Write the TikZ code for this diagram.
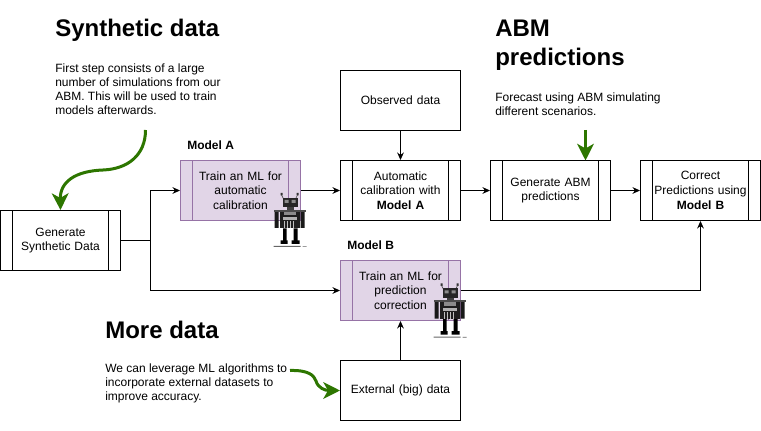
\documentclass[tikz,border=0pt]{standalone}
\usepackage{fontspec}
\setmainfont{Liberation Sans}
\usetikzlibrary{arrows.meta,calc}
\definecolor{grn}{HTML}{2D7600}
\definecolor{pfill}{HTML}{E1D5E7}
\definecolor{pline}{HTML}{9673A6}
\tikzset{
  x=0.75pt,y=-0.75pt,
  bx/.style={draw=#1,line width=0.75pt,minimum width=90pt,minimum height=45pt,inner sep=0pt,align=center,
    font=\fontsize{9}{11}\selectfont,text width=72pt},
  bx/.default=black,
  plainbox/.style={bx,text width=86pt},
  procbox/.style={bx=#1,path picture={
    \draw[#1,line width=0.75pt] ([xshift=9pt]path picture bounding box.north west)--([xshift=9pt]path picture bounding box.south west);
    \draw[#1,line width=0.75pt] ([xshift=-9pt]path picture bounding box.north east)--([xshift=-9pt]path picture bounding box.south east);}},
  procbox/.default=black,
  mlbox/.style={procbox=pline,fill=pfill},
  wire/.style={line width=0.75pt,-{Stealth[length=5.6pt,width=5pt]}},
  plainwire/.style={line width=0.75pt},
  greenwire/.style={grn,line width=2.25pt,-{Stealth[length=12.5pt,width=12.5pt,inset=3.5pt]}},
  title/.style={anchor=west,inner sep=0pt,font=\fontsize{18}{21.75}\bfseries\selectfont,align=left},
  para/.style={anchor=west,inner sep=0pt,font=\fontsize{9}{10.5}\selectfont,align=left},
  tag/.style={anchor=west,inner sep=0pt,font=\fontsize{9}{10.8}\bfseries\selectfont},
  robot/.pic={
    % antennae
    \fill[black!80] (-9,0) rectangle (-7,2.5) (7,0) rectangle (9,2.5);
    \draw[black!70,line width=0.5pt] (-8,2)--(-6,6) (8,2)--(6,6);
    % head
    \fill[black!85] (-7,5) rectangle (8,14.5);
    \fill[black!45] (-5,7) rectangle (-1,10) (2,7) rectangle (6,10);
    % neck
    \fill[black!75] (-3,14.5) rectangle (4,17);
    % body
    \fill[black!88] (-10,17) rectangle (10,35.5);
    \fill[black!45] (-6,19) rectangle (6,22);
    \fill[black!30] (-7,24) rectangle (7,27);
    \foreach \i in {-6,-3,0,3}{\fill[black!25] (\i,28) rectangle (\i+1.5,35);}
    % arms
    \fill[black!90] (-15,18) rectangle (-11,35) (11,18) rectangle (15,35);
    \fill[black!70] (-16,17) rectangle (16,19);
    % legs and feet
    \fill[black] (-6.5,35.5) rectangle (-3,49) (4,35.5) rectangle (8,49);
    \fill[black] (-9,47.5) rectangle (-2,51) (2,47.5) rectangle (10,51);
    % ground
    \fill[black!60] (-16,53) rectangle (11,54) (13,53.3) rectangle (17,54);
  }
}
\begin{document}
\begin{tikzpicture}
\useasboundingbox (0,0) rectangle (761,431);
\node[procbox] (gen) at (60.5,240.5) {Generate\\Synthetic Data};
\node[mlbox] (trainA) at (240.5,190.5) {Train an ML for\\automatic\\calibration};
\node[procbox] (auto) at (400.5,190.5) {Automatic\\calibration with\\\textbf{Model A}};
\node[procbox] (abm) at (550.5,190.5) {Generate ABM\\predictions};
\node[procbox] (corr) at (700.5,190.5) {Correct\\Predictions using\\\textbf{Model B}};
\node[plainbox] (obs) at (400.5,100.5) {Observed data};
\node[mlbox] (trainB) at (400.5,290.5) {Train an ML for\\prediction\\correction};
\node[plainbox] (ext) at (400.5,390.5) {External (big) data};

\coordinate (split) at (150.5,240.5);
\draw[plainwire] (gen.east) -- (split);
\draw[wire] (split) |- (trainA.west);
\draw[wire] (split) |- (trainB.west);
\draw[wire] (trainA.east) -- (auto.west);
\draw[wire] (obs.south) -- (auto.north);
\draw[wire] (auto.east) -- (abm.west);
\draw[wire] (abm.east) -- (corr.west);
\draw[wire] (trainB.east) -| (corr.south);
\draw[wire] (ext.north) -- (trainB.south);

\pic at (289.5,193) {robot};
\pic at (449.5,283.5) {robot};

\node[title] (t1) at (55,30) {Synthetic data};
\node[title] (t2) at (495,45) {ABM\\predictions};
\node[title] (t3) at (105,330) {More data};
\node[para] (p1) at (55,89.5) {First step consists of a large\\number of simulations from our\\ABM. This will be used to train\\models afterwards.};
\node[para] (p2) at (495,104) {Forecast using ABM simulating\\different scenarios.};
\node[para] (p3) at (105,383) {We can leverage ML algorithms to\\incorporate external datasets to\\improve accuracy.};
\node[tag] (ta) at (187,145) {Model A};
\node[tag] (tb) at (347,245) {Model B};

\coordinate (g1) at (145.5,130);
\coordinate (g2) at (585.5,130);
\coordinate (g2end) at (585.5,160.5);
\coordinate (g3) at (290,370.5);
\draw[greenwire] (g1) .. controls (145.5,155) and (128,169) .. (103,170) .. controls (75,171) and (60,182) .. (gen.north);
\draw[greenwire] (g2) -- (g2end);
\draw[greenwire] (g3) .. controls (308,370) and (314,375) .. (316,381) .. controls (318,388) and (325,390.5) .. (ext.west);
\end{tikzpicture}
\end{document}
